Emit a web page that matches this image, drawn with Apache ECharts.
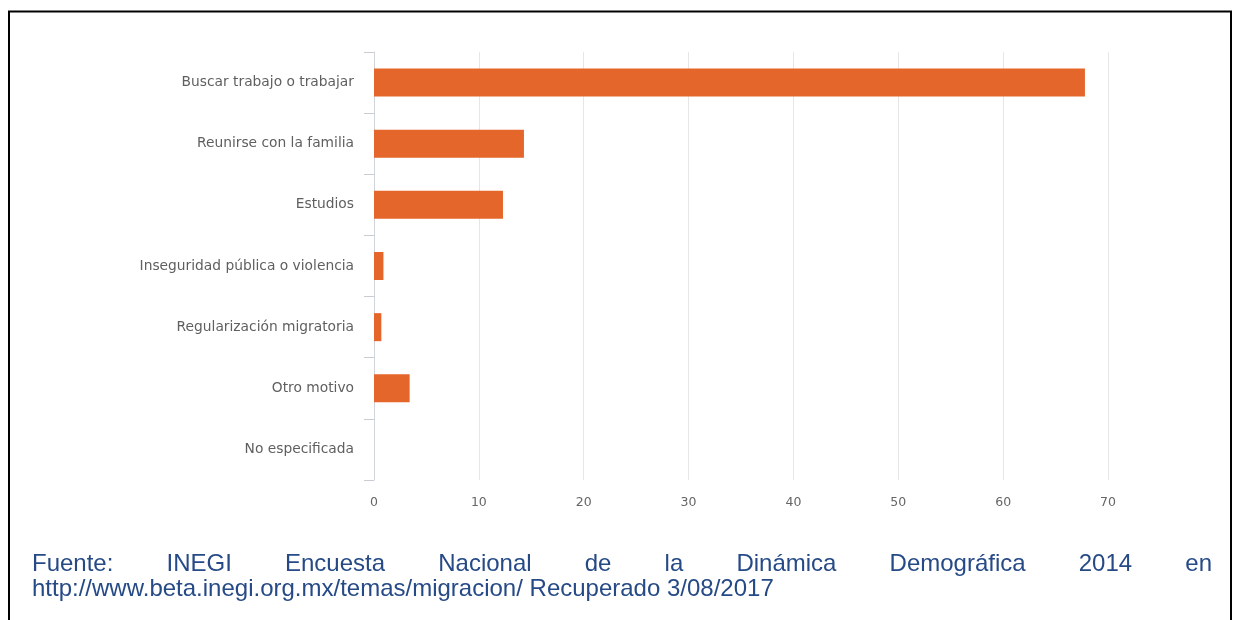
<!DOCTYPE html>
<html><head><meta charset="utf-8">
<script src="https://cdn.jsdelivr.net/npm/echarts/dist/echarts.min.js"></script>
<style>html,body{margin:0;padding:0;background:#fff}#c{width:1233px;height:620px}</style>
</head><body><div id="c"></div>
<script>
// ---- data ----
const categories = [
  "Buscar trabajo o trabajar",
  "Reunirse con la familia",
  "Estudios",
  "Inseguridad pública o violencia",
  "Regularización migratoria",
  "Otro motivo",
  "No especificada"
];
const values = [67.8, 14.3, 12.3, 0.9, 0.7, 3.4, 0];
const xMin = 0, xMax = 70, xStep = 10;
const sourceLine1Words = ["Fuente:", "INEGI", "Encuesta", "Nacional", "de", "la", "Dinámica", "Demográfica", "2014", "en"];
const sourceLine2 = "http://www.beta.inegi.org.mx/temas/migracion/ Recuperado 3/08/2017";

// ---- layout helpers ----
const noteFont = "24px 'Liberation Sans', Arial, sans-serif";
const noteColor = "#264a86";
const cv = document.createElement("canvas").getContext("2d");
cv.font = noteFont;
const lineStart = 32, lineEnd = 1212;
const widths = sourceLine1Words.map(w => cv.measureText(w).width);
const total = widths.reduce((a, b) => a + b, 0);
const gap = (lineEnd - lineStart - total) / (sourceLine1Words.length - 1);
const noteElems = [];
let xPos = lineStart;
sourceLine1Words.forEach((w, i) => {
  noteElems.push({type: "text", x: xPos, y: 564,
    style: {text: w, font: noteFont, fill: noteColor, verticalAlign: "middle", align: "left"}});
  xPos += widths[i] + gap;
});
noteElems.push({type: "text", x: lineStart, y: 589,
  style: {text: sourceLine2, font: noteFont, fill: noteColor, verticalAlign: "middle", align: "left"}});

const chart = echarts.init(document.getElementById("c"), null, {renderer: "canvas"});
chart.setOption({
  animation: false,
  backgroundColor: "#fff",
  grid: {left: 374, top: 52, width: 734, height: 428, containLabel: false, outerBoundsMode: "none"},
  xAxis: {
    type: "value", min: xMin, max: xMax, interval: xStep,
    axisLine: {show: false}, axisTick: {show: false},
    splitLine: {show: true, lineStyle: {color: "#e6e6e6", width: 1}},
    axisLabel: {color: "#666", fontSize: 12.5, fontFamily: "DejaVu Sans", margin: 16}
  },
  yAxis: {
    type: "category", data: categories, inverse: true,
    axisLine: {show: true, lineStyle: {color: "#d0d4dc", width: 1}},
    axisTick: {show: true, length: 10, lineStyle: {color: "#c8ccd4"}},
    axisLabel: {color: "#5f5f5f", fontSize: 13.8, fontFamily: "DejaVu Sans", margin: 20},
    splitLine: {show: false}
  },
  series: [{
    type: "bar", data: values, barWidth: 28,
    itemStyle: {color: "#e5662b"}
  }],
  graphic: [
    {type: "rect", shape: {x: 9, y: 11.5, width: 1222, height: 640},
     style: {fill: "none", stroke: "#000", lineWidth: 2}, z: 100}
  ].concat(noteElems)
});
</script></body></html>
